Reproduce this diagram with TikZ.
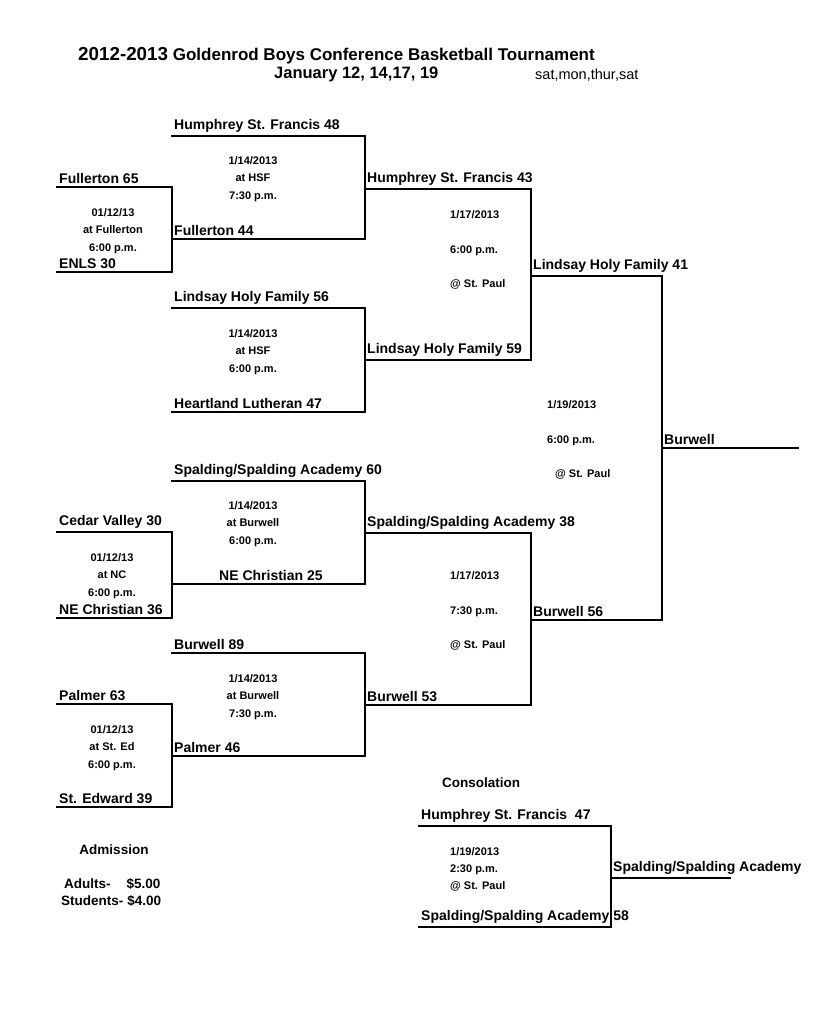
\documentclass[tikz,border=0pt]{standalone}
\usepackage{fontspec}
\setmainfont{Liberation Sans}
\usetikzlibrary{positioning}
\newcommand{\teamfont}{\fontsize{14}{16}\selectfont\bfseries}
\tikzset{
  team/.style={anchor=south west, inner sep=0pt, font=\teamfont, xshift=2pt, yshift=3pt},
  info/.style={font={\fontsize{11}{#1}\selectfont\bfseries}, inner sep=0pt, align=center},
  info/.default=17.5,
  infol/.style={info=#1, align=left, anchor=west},
  head/.style={inner sep=0pt, font={\fontsize{13.5}{15}\selectfont\bfseries}},
  bracket/.style={line width=1.3pt, line cap=rect},
}
\begin{document}
\begin{tikzpicture}[x=1pt, y=-1pt]
  \useasboundingbox[fill=white] (0,0) rectangle (831,1024);
  % heading
  \node[anchor=base west, inner sep=0pt, font={\fontsize{17}{20}\selectfont\bfseries}] (title) at (78,61) {{\fontsize{18.8}{20}\selectfont 2012-2013} Goldenrod Boys Conference Basketball Tournament};
  \node[anchor=base west, inner sep=0pt, font={\fontsize{16.5}{20}\selectfont\bfseries}] (dates) at (274,79) {January 12, 14,17, 19};
  \node[anchor=base west, inner sep=0pt, font={\fontsize{14.5}{16}\selectfont}] (days) at (535,80) {sat,mon,thur,sat};

  % slots
  \coordinate (fu65) at (57,187);  \coordinate (en30) at (57,272);
  \coordinate (cv30) at (57,532);  \coordinate (nc36) at (57,618);
  \coordinate (pa63) at (57,704);  \coordinate (se39) at (57,807);
  \coordinate (hsf48) at (172,136); \coordinate (fu44) at (172,239);
  \coordinate (lhf56) at (172,308); \coordinate (hl47) at (172,412);
  \coordinate (ssa60) at (172,481); \coordinate (nc25) at (172,584);
  \coordinate (bu89) at (172,653);  \coordinate (pa46) at (172,756);
  \coordinate (hsf43) at (365,189); \coordinate (lhf59) at (365,360);
  \coordinate (ssa38) at (365,533); \coordinate (bu53) at (365,705);
  \coordinate (lhf41) at (531,276); \coordinate (bu56) at (531,620);
  \coordinate (bu) at (662,448);    \coordinate (buend) at (798,448);
  \coordinate (hsf47) at (419,826); \coordinate (ssa58) at (419,927);
  \coordinate (ssac) at (611,878);  \coordinate (ssacend) at (730,878);

  % team names
  \node[team] (tfu65) at (fu65) {Fullerton 65};
  \node[team] (ten30) at (en30) {ENLS 30};
  \node[team] (tcv30) at (cv30) {Cedar Valley 30};
  \node[team] (tnc36) at (nc36) {NE Christian 36};
  \node[team] (tpa63) at (pa63) {Palmer 63};
  \node[team] (tse39) at (se39) {St. Edward 39};
  \node[team] (thsf48) at (hsf48) {Humphrey St. Francis 48};
  \node[team] (tfu44) at (fu44) {Fullerton 44};
  \node[team] (tlhf56) at (lhf56) {Lindsay Holy Family 56};
  \node[team] (thl47) at (hl47) {Heartland Lutheran 47};
  \node[team] (tssa60) at (ssa60) {Spalding/Spalding Academy 60};
  \node[team, xshift=45pt] (tnc25) at (nc25) {NE Christian 25};
  \node[team] (tbu89) at (bu89) {Burwell 89};
  \node[team] (tpa46) at (pa46) {Palmer 46};
  \node[team] (thsf43) at (hsf43) {Humphrey St. Francis 43};
  \node[team] (tlhf59) at (lhf59) {Lindsay Holy Family 59};
  \node[team] (tssa38) at (ssa38) {Spalding/Spalding Academy 38};
  \node[team] (tbu53) at (bu53) {Burwell 53};
  \node[team] (tlhf41) at (lhf41) {Lindsay Holy Family 41};
  \node[team] (tbu56) at (bu56) {Burwell 56};
  \node[team] (tbu) at (bu) {Burwell};
  \node[team] (thsf47) at (hsf47) {Humphrey St. Francis\ \ 47};
  \node[team] (tssa58) at (ssa58) {Spalding/Spalding Academy 58};
  \node[team] (tssac) at (ssac) {Spalding/Spalding Academy};

  % brackets: top/bottom/winner
  \foreach \t/\b/\w in {fu65/en30/fu44, cv30/nc36/nc25, pa63/se39/pa46,
      hsf48/fu44/hsf43, lhf56/hl47/lhf59, ssa60/nc25/ssa38, bu89/pa46/bu53,
      hsf43/lhf59/lhf41, ssa38/bu53/bu56, lhf41/bu56/bu, hsf47/ssa58/ssac}
    \draw[bracket] (\t) -- (\t -| \w) -- (\b -| \w) -- (\b);
  \draw[bracket] (bu) -- (buend);
  \draw[bracket] (ssac) -- (ssacend);

  % game info
  \node[info] (g1a) at (113,231) {01/12/13\\at Fullerton\\6:00 p.m.};
  \node[info] (g1b) at (112,576) {01/12/13\\at NC\\6:00 p.m.};
  \node[info] (g1c) at (112,748) {01/12/13\\at St. Ed\\6:00 p.m.};
  \node[info] (g2a) at (253,179) {1/14/2013\\at HSF\\7:30 p.m.};
  \node[info] (g2b) at (253,352) {1/14/2013\\at HSF\\6:00 p.m.};
  \node[info] (g2c) at (253,524) {1/14/2013\\at Burwell\\6:00 p.m.};
  \node[info] (g2d) at (253,697) {1/14/2013\\at Burwell\\7:30 p.m.};
  \node[infol=34.5] (g3a) at (450,250) {1/17/2013\\6:00 p.m.\\@ St. Paul};
  \node[infol=34.5] (g3b) at (450,611) {1/17/2013\\7:30 p.m.\\@ St. Paul};
  \node[infol=34.5] (g4) at (547,440) {1/19/2013\\6:00 p.m.\\\hspace*{8pt}@ St. Paul};
  \node[infol=17] (g5) at (450,869) {1/19/2013\\2:30 p.m.\\@ St. Paul};

  % notes
  \node[head] (cons) at (481,783) {Consolation};
  \node[head] (adm) at (114,850) {Admission};
  \node[head, anchor=west] (adults) at (64,884) {Adults-\hspace{16pt}\$5.00};
  \node[head, anchor=west] (students) at (61,901) {Students-\hspace{4pt}\$4.00};
\end{tikzpicture}
\end{document}
